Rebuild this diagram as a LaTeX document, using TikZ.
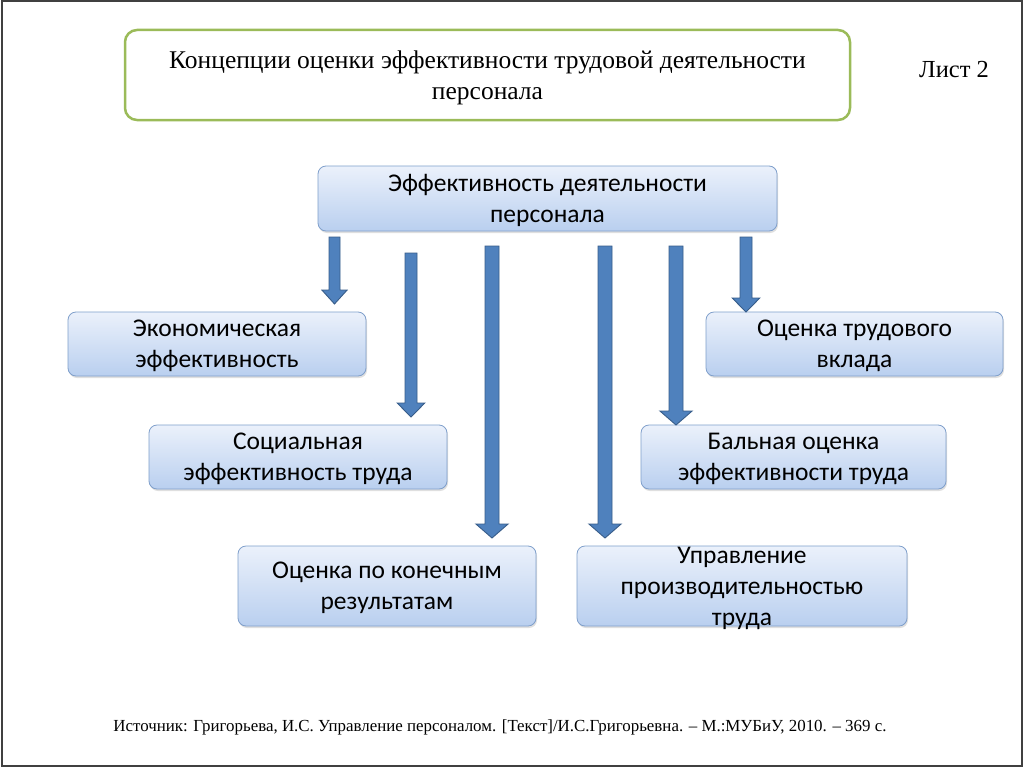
\documentclass[tikz,border=0pt]{standalone}
\usepackage{fontspec}
\setmainfont{Liberation Serif}
\newfontfamily\boxfont{Carlito}
\usetikzlibrary{calc,shadows}

\definecolor{titleline}{HTML}{9BBB59}
\definecolor{boxline}{HTML}{7F9FCB}
\definecolor{boxtop}{HTML}{EBF1FB}
\definecolor{boxbottom}{HTML}{B9CFEF}
\definecolor{arrfill}{HTML}{4F81BD}
\definecolor{arrline}{HTML}{385D8A}

\tikzset{
  conbox/.style={rectangle,rounded corners=8pt,draw=boxline,line width=0.8pt,
    top color=boxtop,bottom color=boxbottom,align=center,text depth=0pt,
    font=\boxfont\fontsize{25.5}{31}\selectfont,inner sep=0pt,
    drop shadow={opacity=0.25,shadow xshift=1pt,shadow yshift=-2pt}},
  blockarr/.style={draw=arrline,fill=arrfill,line width=0.9pt,
    to path={let \p1=(\tikztostart), \p2=(\tikztotarget) in
      (\x1-#1,\y1) -- (\x1+#1,\y1) -- (\x1+#1,\y2+14pt) -- (\x1+2.3*#1,\y2+14pt)
      -- (\x2,\y2) -- (\x1-2.3*#1,\y2+14pt) -- (\x1-#1,\y2+14pt) -- cycle}},
  blockarr/.default=6pt
}

\begin{document}
\begin{tikzpicture}[x=1pt,y=-1pt]
\useasboundingbox (0,0) rectangle (1024,768);
\fill[white] (0,0) rectangle (1024,768);
\draw[black!75,line width=2pt] (1.5,1.5) rectangle (1021.5,766);

% title
\node[draw=titleline,line width=2.5pt,rounded corners=12pt,fill=white,
  minimum width=725pt,minimum height=90pt,align=center,text depth=0pt,
  font=\fontsize{25.5}{31}\selectfont] (title) at (487.5,75)
  {Концепции оценки эффективности трудовой деятельности\\персонала};
\node[font=\fontsize{24.5}{28}\selectfont] (sheet) at (954,70) {Лист 2};

% boxes
\node[conbox,minimum width=459pt,minimum height=65pt] (top) at (547.5,198.5)
  {Эффективность деятельности\\персонала};
\node[conbox,minimum width=298pt,minimum height=64pt] (econ) at (217,344)
  {Экономическая\\эффективность};
\node[conbox,minimum width=297pt,minimum height=64pt] (contrib) at (854.5,344)
  {Оценка трудового\\вклада};
\node[conbox,minimum width=298pt,minimum height=64pt] (social) at (298,457)
  {Социальная\\эффективность труда};
\node[conbox,minimum width=305pt,minimum height=64pt] (score) at (793.5,457)
  {Бальная оценка\\эффективности труда};
\node[conbox,minimum width=298pt,minimum height=80pt] (result) at (387,586)
  {Оценка по конечным\\результатам};
\node[conbox,minimum width=330pt,minimum height=80pt] (manage) at (742,586)
  {Управление\\производительностью\\труда};

% arrows
\coordinate (s1) at (334.5,237); \coordinate (e1) at (334.5,304);
\coordinate (s2) at (411,253);   \coordinate (e2) at (411,417);
\coordinate (s3) at (492,246);   \coordinate (e3) at (492,538);
\coordinate (s4) at (605,246);   \coordinate (e4) at (605,538);
\coordinate (s5) at (676,246);   \coordinate (e5) at (676,425);
\coordinate (s6) at (746,237);   \coordinate (e6) at (746,312);

\draw[blockarr=5.5pt] (s1) to (e1);
\draw[blockarr=6pt] (s2) to (e2);
\draw[blockarr=7pt] (s3) to (e3);
\draw[blockarr=7pt] (s4) to (e4);
\draw[blockarr=7pt] (s5) to (e5);
\draw[blockarr=6pt] (s6) to (e6);

% source
\node[font=\fontsize{16.9}{20}\selectfont] (source) at (500,727)
  {Источник: Григорьева, И.С. Управление персоналом. [Текст]/И.С.Григорьевна. -- М.:МУБиУ, 2010. -- 369 с.};
\end{tikzpicture}
\end{document}
